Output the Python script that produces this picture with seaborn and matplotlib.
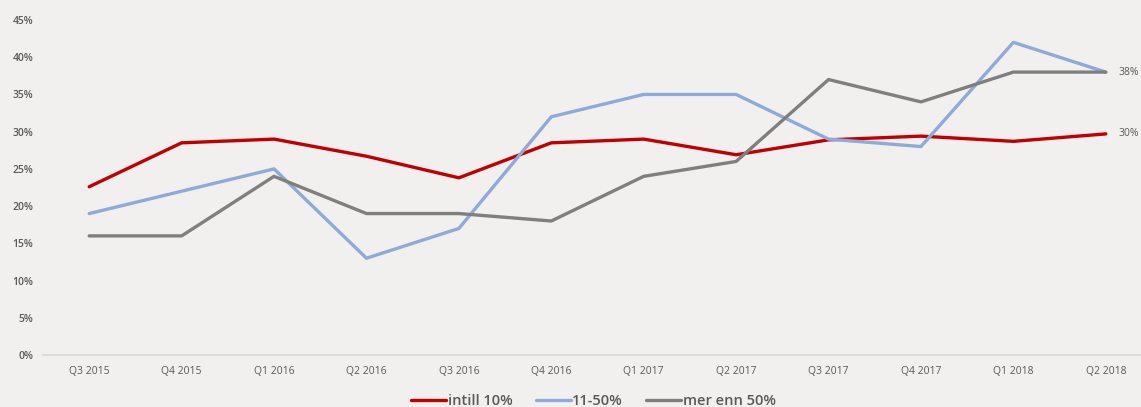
import matplotlib.pyplot as plt
import seaborn as sns
import pandas as pd

quarters = ['Q3 2015', 'Q4 2015', 'Q1 2016', 'Q2 2016', 'Q3 2016', 'Q4 2016',
            'Q1 2017', 'Q2 2017', 'Q3 2017', 'Q4 2017', 'Q1 2018', 'Q2 2018']
intill_10 = [22.6, 28.5, 29.0, 26.7, 23.8, 28.5, 29.0, 26.9, 28.9, 29.4, 28.7, 29.7]
mellom_11_50 = [19, 22, 25, 13, 17, 32, 35, 35, 29, 28, 42, 38]
over_50 = [16, 16, 24, 19, 19, 18, 24, 26, 37, 34, 38, 38]
series_names = ['intill 10%', '11-50%', 'mer enn 50%']
colors = ['#c00000', '#8eaadb', '#7f7f7f']

df = pd.DataFrame({'kvartal': quarters * 3,
                   'andel': intill_10 + mellom_11_50 + over_50,
                   'gruppe': [n for n in series_names for _ in quarters]})
df['pos'] = df['kvartal'].map({q: i for i, q in enumerate(quarters)})

sns.set_style('white')
plt.rcParams['font.family'] = ['Open Sans', 'DejaVu Sans']
bg = '#f2f0ee'

fig = plt.figure(figsize=(11.41, 4.07), dpi=100, facecolor=bg)
ax = fig.add_axes([43 / 1141, 52 / 407, 1109 / 1141, 335 / 407], facecolor=bg)

sns.lineplot(data=df, x='pos', y='andel', hue='gruppe', hue_order=series_names,
             palette=colors, linewidth=2.4, ax=ax, legend=False)

ax.set_xlim(-0.5, len(quarters) - 0.5)
ax.set_ylim(0, 45)
ax.set_xticks(range(len(quarters)))
ax.set_xticklabels(quarters)
ax.set_yticks(range(0, 50, 5))
ax.set_yticklabels([f'{v}%' for v in range(0, 50, 5)])
ax.tick_params(axis='both', length=0, labelsize=7.5, labelcolor='#595959')
ax.tick_params(axis='x', pad=8)
ax.tick_params(axis='y', pad=7)
for lab in ax.get_yticklabels():
    lab.set_fontweight('semibold')
ax.set_xlabel('')
ax.set_ylabel('')
for side in ['top', 'right', 'left']:
    ax.spines[side].set_visible(False)
ax.spines['bottom'].set_color('#d9d9d9')
ax.spines['bottom'].set_linewidth(1.2)

# end labels
last = len(quarters) - 1
ax.annotate(f'{mellom_11_50[-1]}%', (last, over_50[-1]), xytext=(9, 0),
            textcoords='offset points', va='center', fontsize=7.5, color='#595959')
ax.annotate(f'{round(intill_10[-1])}%', (last, intill_10[-1]), xytext=(9, 0),
            textcoords='offset points', va='center', fontsize=7.5, color='#595959')

handles = [plt.Line2D([], [], color=c, linewidth=2.4) for c in colors]
leg = fig.legend(handles, series_names, loc='lower center', ncol=3,
                 bbox_to_anchor=(0.52, -0.035), frameon=False, fontsize=10.5,
                 handlelength=2.4, handletextpad=0.1, columnspacing=1.6)
for t in leg.get_texts():
    t.set_color('#595959')
    t.set_fontweight('semibold')

fig.savefig('out.png', dpi=100, facecolor=bg)
